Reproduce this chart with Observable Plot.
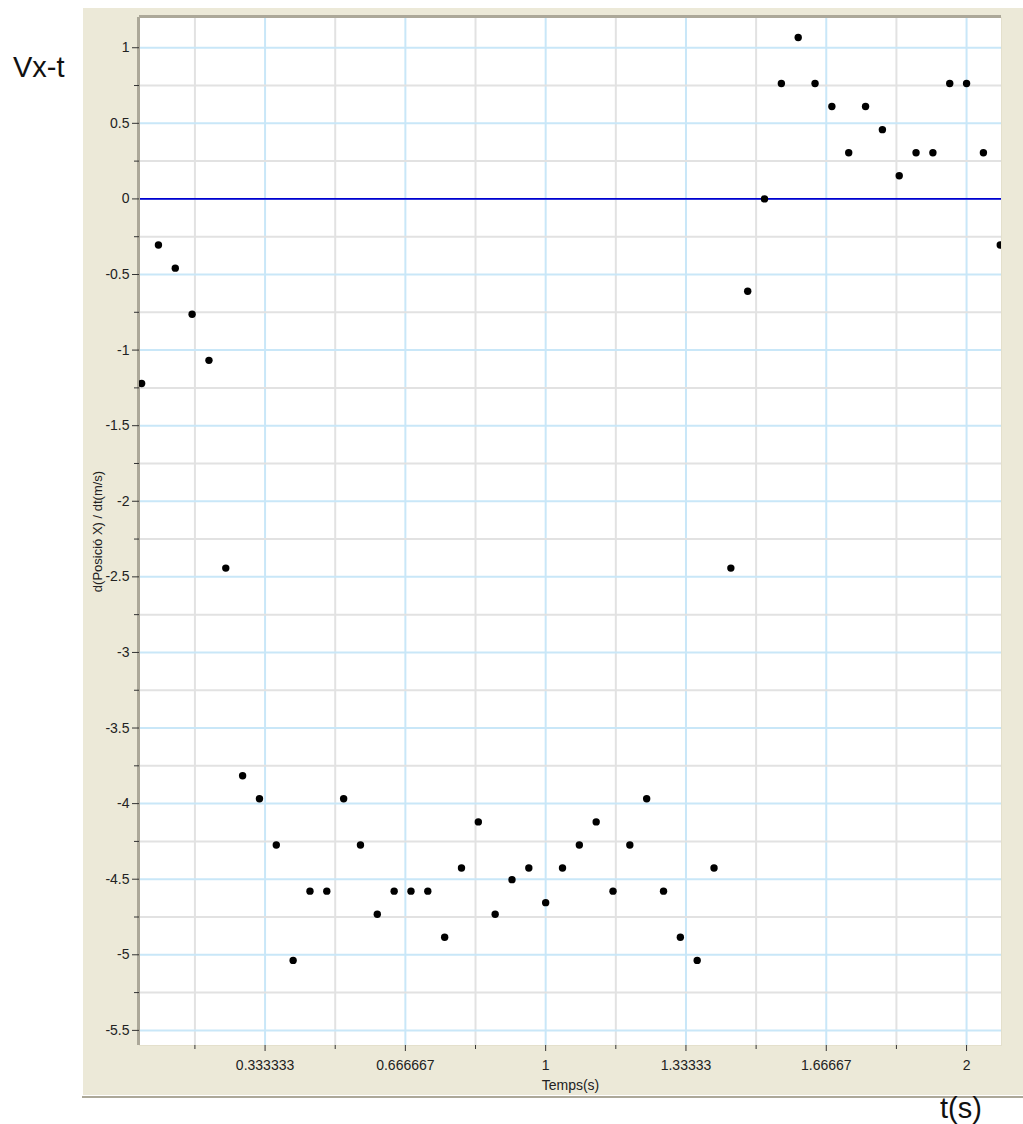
<!DOCTYPE html>
<html>
<head>
<meta charset="utf-8">
<script src="https://cdn.jsdelivr.net/npm/d3@7"></script>
<script src="https://cdn.jsdelivr.net/npm/@observablehq/plot@0.6"></script>
<style>
  body { margin: 0; background: white; font-family: "Liberation Sans", Arial, sans-serif; }
  #wrap { position: relative; width: 1023px; height: 1124px; overflow: hidden; }
  #panel { position: absolute; left: 83px; top: 8px; width: 940px; height: 1087px; background: #ECE9D8; }
  #baseline { position: absolute; left: 82px; top: 1096px; width: 941px; height: 2px; background: #ACA899; }
  #chart { position: absolute; left: 0; top: 0; }
  .big { position: absolute; font-size: 29px; line-height: 29px; color: #111; white-space: nowrap; }
</style>
</head>
<body>
<div id="wrap">
  <div id="panel"></div>
  <div id="baseline"></div>
  <div id="chart"></div>
  <div class="big" style="left:13px; top:53px;">Vx-t</div>
  <div class="big" style="left:940px; top:1094px;">t(s)</div>
</div>
<script>
// ---- data ----
const times = [0.04, 0.08, 0.12, 0.16, 0.20, 0.24, 0.28, 0.32, 0.36, 0.40,
               0.44, 0.48, 0.52, 0.56, 0.60, 0.64, 0.68, 0.72, 0.76, 0.80,
               0.84, 0.88, 0.92, 0.96, 1.00, 1.04, 1.08, 1.12, 1.16, 1.20,
               1.24, 1.28, 1.32, 1.36, 1.40, 1.44, 1.48, 1.52, 1.56, 1.60,
               1.64, 1.68, 1.72, 1.76, 1.80, 1.84, 1.88, 1.92, 1.96, 2.00,
               2.04, 2.08];
const velocity = [-1.221, -0.305, -0.458, -0.763, -1.068, -2.442, -3.816, -3.968, -4.274, -5.037,
                  -4.579, -4.579, -3.968, -4.274, -4.732, -4.579, -4.579, -4.579, -4.884, -4.426,
                  -4.121, -4.732, -4.503, -4.426, -4.655, -4.426, -4.274, -4.121, -4.579, -4.274,
                  -3.968, -4.579, -4.884, -5.037, -4.426, -2.442, -0.611, 0.000, 0.763, 1.068,
                  0.763, 0.611, 0.305, 0.611, 0.458, 0.153, 0.305, 0.305, 0.763, 0.763,
                  0.305, -0.305];

const xDomain = [0.035, 2.083];
const yDomain = [-5.6, 1.2];

const xTicks = [1/3, 2/3, 1, 4/3, 5/3, 2];
const xTickLabels = ["0.333333", "0.666667", "1", "1.33333", "1.66667", "2"];
const xMinorTicks = [1/6, 0.5, 5/6, 7/6, 1.5, 11/6];

const yTicks = [1, 0.5, 0, -0.5, -1, -1.5, -2, -2.5, -3, -3.5, -4, -4.5, -5, -5.5];
const yTickLabels = ["1", "0.5", "0", "-0.5", "-1", "-1.5", "-2", "-2.5", "-3", "-3.5", "-4", "-4.5", "-5", "-5.5"];
const yMinorTicks = [0.75, 0.25, -0.25, -0.75, -1.25, -1.75, -2.25, -2.75, -3.25, -3.75, -4.25, -4.75, -5.25];

const xLabel = "Temps(s)";
const yLabel = "d(Posició X) / dt(m/s)";

const data = times.map((t, i) => ({t, v: velocity[i]}));

const gridBlue = "#c9e7f8";
const gridGray = "#e2e2e2";
const borderDark = "#ACA899";
const tickColor = "#333";

const chart = Plot.plot({
  width: 1023,
  height: 1124,
  marginLeft: 139,
  marginRight: 22,
  marginTop: 17,
  marginBottom: 79,
  style: {background: "transparent", fontFamily: "'Liberation Sans', Arial, sans-serif", fontSize: "14px", color: "#222"},
  x: {domain: xDomain, axis: null},
  y: {domain: yDomain, axis: null},
  marks: [
    Plot.frame({fill: "white", stroke: "#e4e0cc", strokeWidth: 1}),
    // grid
    Plot.ruleX(xMinorTicks, {stroke: gridGray, strokeWidth: 2}),
    Plot.ruleX(xTicks, {stroke: gridBlue, strokeWidth: 2}),
    Plot.ruleY(yMinorTicks, {stroke: gridGray, strokeWidth: 2}),
    Plot.ruleY(yTicks, {stroke: gridBlue, strokeWidth: 2}),
    // zero line
    Plot.ruleY([0], {stroke: "#0000d0", strokeWidth: 1.6}),
    // frame borders (top/left darker)
    Plot.ruleX([xDomain[0]], {stroke: borderDark, strokeWidth: 3, dx: -1}),
    Plot.ruleY([yDomain[1]], {stroke: borderDark, strokeWidth: 3, dy: -1}),
    // data
    Plot.dot(data, {x: "t", y: "v", r: 3.7, fill: "black", stroke: "none", clip: true}),
    // axes
    Plot.axisY({ticks: yTicks, tickSize: 7, tickPadding: 3, stroke: tickColor, fontSize: 14, fill: "#222",
                tickFormat: d => yTickLabels[yTicks.indexOf(d)], label: null}),
    Plot.axisY({ticks: yMinorTicks, tickSize: 5, stroke: tickColor, tickFormat: () => "", label: null}),
    Plot.axisX({ticks: xTicks, tickSize: 6, tickPadding: 9, stroke: tickColor, fontSize: 14, fill: "#222",
                tickFormat: d => xTickLabels[xTicks.indexOf(d)], label: null}),
    Plot.axisX({ticks: xMinorTicks, tickSize: 4, stroke: tickColor, tickFormat: () => "", label: null}),
    // axis labels
    Plot.text([xLabel], {frameAnchor: "bottom", dy: 44, fontSize: 14, fill: "#222"}),
    Plot.text([yLabel], {frameAnchor: "left", textAnchor: "middle", dx: -42, rotate: -90, fontSize: 13, fill: "#222"})
  ]
});
document.getElementById("chart").appendChild(chart);
</script>
</body>
</html>
